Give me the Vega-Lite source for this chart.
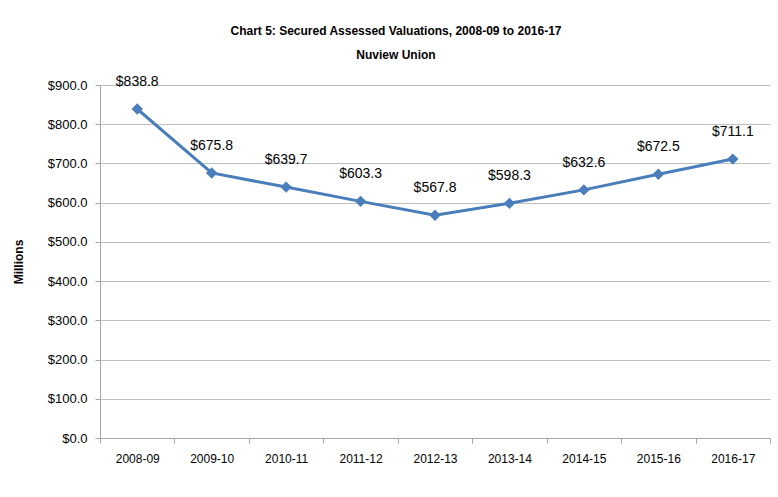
{
  "$schema": "https://vega.github.io/schema/vega-lite/v6.json",
  "autosize": "none",
  "width": 670,
  "height": 353,
  "padding": {"left": 100, "top": 85, "right": 8, "bottom": 59},
  "background": "white",
  "config": {
    "view": {"stroke": null},
    "font": "Liberation Sans"
  },
  "title": {
    "text": "Chart 5: Secured Assessed Valuations, 2008-09 to 2016-17",
    "subtitle": "Nuview Union",
    "font": "Liberation Sans",
    "subtitleFont": "Liberation Sans",
    "fontSize": 12,
    "subtitleFontSize": 12,
    "fontWeight": "bold",
    "subtitleFontWeight": "bold",
    "color": "#000000",
    "subtitleColor": "#000000",
    "anchor": "middle",
    "dx": -39,
    "offset": 13,
    "subtitlePadding": 12
  },
  "data": {
    "values": [
      {"year": "2008-09", "value": 838.8},
      {"year": "2009-10", "value": 675.8},
      {"year": "2010-11", "value": 639.7},
      {"year": "2011-12", "value": 603.3},
      {"year": "2012-13", "value": 567.8},
      {"year": "2013-14", "value": 598.3},
      {"year": "2014-15", "value": 632.6},
      {"year": "2015-16", "value": 672.5},
      {"year": "2016-17", "value": 711.1}
    ]
  },
  "encoding": {
    "x": {
      "field": "year",
      "type": "ordinal",
      "scale": {"type": "band", "paddingInner": 0, "paddingOuter": 0},
      "axis": {
        "title": null,
        "labelAngle": 0,
        "tickBand": "extent",
        "labelFontSize": 12,
        "labelColor": "#000000",
        "labelFont": "Liberation Sans",
        "labelPadding": 10,
        "domainColor": "#a6a6a6",
        "tickColor": "#a6a6a6",
        "tickSize": 5,
        "grid": false
      }
    },
    "y": {
      "field": "value",
      "type": "quantitative",
      "scale": {"domain": [0, 900]},
      "axis": {
        "title": "Millions",
        "titleFont": "Liberation Sans",
        "titleFontWeight": "bold",
        "titleFontSize": 12,
        "titleColor": "#000000",
        "titlePadding": 22,
        "values": [0, 100, 200, 300, 400, 500, 600, 700, 800, 900],
        "format": "$,.1f",
        "labelFontSize": 13,
        "labelColor": "#000000",
        "labelFont": "Liberation Sans",
        "labelPadding": 8,
        "domainColor": "#a6a6a6",
        "tickColor": "#a6a6a6",
        "tickSize": 5,
        "gridColor": "#bfbfbf",
        "gridWidth": 1
      }
    }
  },
  "layer": [
    {
      "mark": {"type": "line", "color": "#4a7ebb", "strokeWidth": 3}
    },
    {
      "mark": {"type": "point", "shape": "diamond", "filled": true, "color": "#4a7ebb", "size": 130, "opacity": 1}
    },
    {
      "mark": {"type": "text", "dy": -27, "fontSize": 14, "color": "#000000", "font": "Liberation Sans"},
      "encoding": {"text": {"field": "value", "type": "quantitative", "format": "$,.1f"}}
    }
  ]
}
